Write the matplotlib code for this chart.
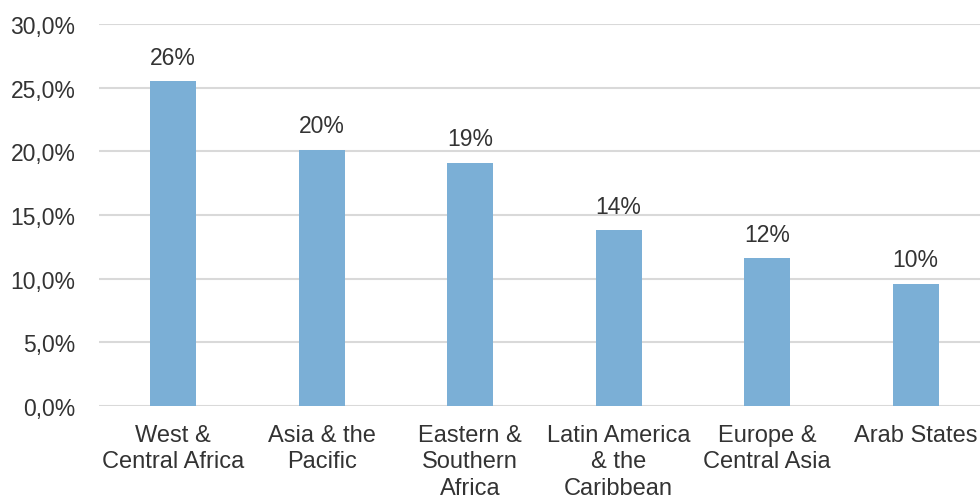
import matplotlib
matplotlib.use("Agg")
import matplotlib.pyplot as plt
import numpy as np

regions = ["West &\nCentral Africa", "Asia & the\nPacific", "Eastern &\nSouthern\nAfrica",
           "Latin America\n& the\nCaribbean", "Europe &\nCentral Asia", "Arab States"]
shares = [25.5, 20.1, 19.1, 13.8, 11.6, 9.6]
y_ticks = [0, 5, 10, 15, 20, 25, 30]

bar_color = "#7bafd6"
text_color = "#333333"
grid_color = "#d9d9d9"

plt.rcParams["font.family"] = ["Liberation Sans", "DejaVu Sans"]

fig = plt.figure(figsize=(9.8, 5.02), dpi=100)
ax = fig.add_axes([0.101, 0.189, 0.909, 0.761])

x = np.arange(len(regions))
ax.bar(x, shares, width=0.31, color=bar_color, zorder=3)

for xi, v in zip(x, shares):
    ax.text(xi, v + 1.0, f"{v:.0f}%", ha="center", va="bottom",
            fontsize=16.5, color=text_color)

ax.set_xlim(-0.5, 5.5)
ax.set_ylim(0, 30)
ax.set_yticks(y_ticks)
ax.set_yticklabels([f"{t:.1f}%".replace(".", ",") for t in y_ticks])
ax.set_xticks(x)
ax.set_xticklabels(regions, linespacing=1.25)

ax.yaxis.grid(True, color=grid_color, linewidth=1.5, zorder=0)
ax.tick_params(axis="y", length=0, pad=17, labelsize=16.5, labelcolor=text_color)
ax.tick_params(axis="x", length=0, pad=13, labelsize=17, labelcolor=text_color)
for s in ax.spines.values():
    s.set_visible(False)

fig.savefig("out.png", dpi=100)
